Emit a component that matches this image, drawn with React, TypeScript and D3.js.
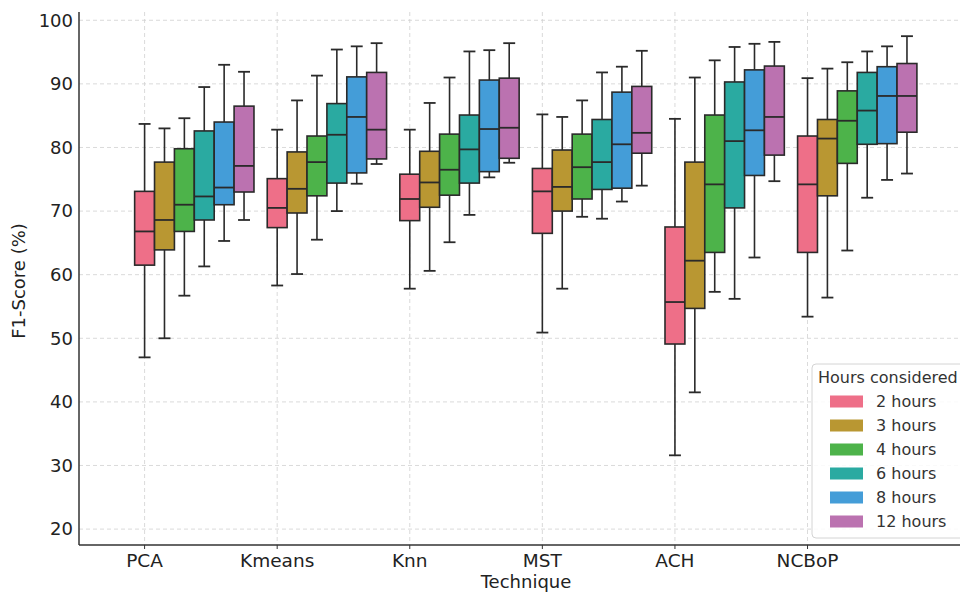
import React, { useEffect, useRef } from "react";
import * as d3 from "d3";

// techniques on the x axis
const techniques = ["PCA", "Kmeans", "Knn", "MST", "ACH", "NCBoP"];
const hourLabels = ["2 hours", "3 hours", "4 hours", "6 hours", "8 hours", "12 hours"];
const hourColors = ["#ee6f88", "#b99732", "#4db34a", "#2aaaa1", "#449dd8", "#bb72b0"];
const yTicks = [20, 30, 40, 50, 60, 70, 80, 90, 100];

// [lower whisker, q1, median, q3, upper whisker] per technique
const h2 = [
  [47.0, 61.5, 66.8, 73.1, 83.7],
  [58.3, 67.4, 70.5, 75.1, 82.8],
  [57.8, 68.5, 71.9, 75.8, 82.8],
  [50.9, 66.5, 73.1, 76.7, 85.2],
  [31.6, 49.1, 55.7, 67.5, 84.5],
  [53.4, 63.5, 74.2, 81.8, 90.9]
];
const h3 = [
  [50.0, 63.9, 68.6, 77.7, 83.0],
  [60.1, 69.7, 73.5, 79.3, 87.4],
  [60.6, 70.6, 74.5, 79.4, 87.0],
  [57.8, 70.0, 73.8, 79.6, 84.8],
  [41.5, 54.7, 62.2, 77.7, 91.0],
  [56.4, 72.4, 81.4, 84.4, 92.4]
];
const h4 = [
  [56.7, 66.8, 71.0, 79.8, 84.6],
  [65.5, 72.4, 77.7, 81.8, 91.3],
  [65.1, 72.5, 76.5, 82.1, 91.0],
  [69.1, 71.9, 76.9, 82.1, 87.4],
  [57.3, 63.5, 74.2, 85.1, 93.7],
  [63.8, 77.5, 84.2, 88.9, 93.4]
];
const h6 = [
  [61.3, 68.6, 72.3, 82.6, 89.5],
  [70.0, 74.4, 82.0, 86.9, 95.4],
  [69.4, 74.4, 79.7, 85.1, 95.1],
  [68.8, 73.4, 77.7, 84.4, 91.8],
  [56.2, 70.5, 81.0, 90.3, 95.8],
  [72.1, 80.5, 85.8, 91.8, 95.1]
];
const h8 = [
  [65.3, 71.0, 73.7, 84.0, 93.0],
  [74.3, 76.0, 84.8, 91.1, 95.9],
  [75.3, 76.2, 82.9, 90.6, 95.3],
  [71.5, 73.6, 80.5, 88.7, 92.7],
  [62.7, 75.6, 82.7, 92.2, 96.3],
  [74.9, 80.6, 88.1, 92.7, 95.9]
];
const h12 = [
  [68.6, 73.0, 77.1, 86.5, 91.9],
  [77.4, 78.2, 82.8, 91.8, 96.4],
  [77.6, 78.3, 83.1, 90.9, 96.4],
  [74.0, 79.1, 82.3, 89.6, 95.2],
  [74.7, 78.8, 84.8, 92.8, 96.6],
  [75.9, 82.4, 88.1, 93.2, 97.5]
];
const series = [h2, h3, h4, h6, h8, h12];

const W = 960;
const H = 593;

function App() {
  const ref = useRef(null);

  useEffect(() => {
    const svg = d3.select(ref.current);
    svg.selectAll("*").remove();

    const left = 79;
    const top = 12;
    const bottom = 545;
    const font = "DejaVu Sans, sans-serif";

    const y = d3.scaleLinear().domain([17.5, 101.3]).range([bottom, top]);
    const x = d3.scaleLinear().domain([-0.5, 6.15]).range([78.3, W]);
    const step = 0.15;

    svg.append("rect").attr("width", W).attr("height", H).attr("fill", "#fff");

    // grid
    svg
      .selectAll("line.hgrid")
      .data(yTicks)
      .enter()
      .append("line")
      .attr("x1", left)
      .attr("x2", W)
      .attr("y1", d => y(d))
      .attr("y2", d => y(d))
      .attr("stroke", "#d0d0d0")
      .attr("stroke-width", 0.8)
      .attr("stroke-dasharray", "4,3");
    svg
      .selectAll("line.vgrid")
      .data(techniques)
      .enter()
      .append("line")
      .attr("x1", (d, i) => x(i))
      .attr("x2", (d, i) => x(i))
      .attr("y1", top)
      .attr("y2", bottom)
      .attr("stroke", "#d0d0d0")
      .attr("stroke-width", 0.8)
      .attr("stroke-dasharray", "4,3");

    // boxes
    series.forEach((s, j) => {
      const g = svg.append("g");
      const bw = x(step) - x(0);
      s.forEach((v, i) => {
        const cx = x(i + j * step);
        const [lo, q1, med, q3, hi] = v;
        const stroke = "#2a2a2a";
        g.append("line")
          .attr("x1", cx).attr("x2", cx)
          .attr("y1", y(hi)).attr("y2", y(q3))
          .attr("stroke", stroke).attr("stroke-width", 1.6);
        g.append("line")
          .attr("x1", cx).attr("x2", cx)
          .attr("y1", y(q1)).attr("y2", y(lo))
          .attr("stroke", stroke).attr("stroke-width", 1.6);
        [lo, hi].forEach(c => {
          g.append("line")
            .attr("x1", cx - bw * 0.3).attr("x2", cx + bw * 0.3)
            .attr("y1", y(c)).attr("y2", y(c))
            .attr("stroke", stroke).attr("stroke-width", 1.8);
        });
        g.append("rect")
          .attr("x", cx - bw / 2)
          .attr("y", y(q3))
          .attr("width", bw)
          .attr("height", y(q1) - y(q3))
          .attr("fill", hourColors[j])
          .attr("stroke", stroke)
          .attr("stroke-width", 1.6);
        g.append("line")
          .attr("x1", cx - bw / 2).attr("x2", cx + bw / 2)
          .attr("y1", y(med)).attr("y2", y(med))
          .attr("stroke", stroke).attr("stroke-width", 1.8);
      });
    });

    // axes
    svg.append("line")
      .attr("x1", left).attr("x2", left).attr("y1", top).attr("y2", bottom)
      .attr("stroke", "#333").attr("stroke-width", 1.5);
    svg.append("line")
      .attr("x1", left).attr("x2", W).attr("y1", bottom).attr("y2", bottom)
      .attr("stroke", "#333").attr("stroke-width", 1.5);

    svg
      .selectAll("text.ytick")
      .data(yTicks)
      .enter()
      .append("text")
      .attr("x", 73)
      .attr("y", d => y(d))
      .attr("dy", "0.35em")
      .attr("text-anchor", "end")
      .attr("font-family", font)
      .attr("font-size", 18)
      .attr("fill", "#222")
      .text(d => d);

    svg
      .selectAll("line.xtick")
      .data(techniques)
      .enter()
      .append("line")
      .attr("x1", (d, i) => x(i))
      .attr("x2", (d, i) => x(i))
      .attr("y1", bottom)
      .attr("y2", bottom + 4)
      .attr("stroke", "#333");

    svg
      .selectAll("text.xtick")
      .data(techniques)
      .enter()
      .append("text")
      .attr("x", (d, i) => x(i))
      .attr("y", 567)
      .attr("text-anchor", "middle")
      .attr("font-family", font)
      .attr("font-size", 18.5)
      .attr("fill", "#222")
      .text(d => d);

    svg.append("text")
      .attr("x", 526)
      .attr("y", 588)
      .attr("text-anchor", "middle")
      .attr("font-family", font)
      .attr("font-size", 18)
      .attr("fill", "#222")
      .text("Technique");

    svg.append("text")
      .attr("transform", "translate(25,281) rotate(-90)")
      .attr("text-anchor", "middle")
      .attr("font-family", font)
      .attr("font-size", 18)
      .attr("fill", "#222")
      .text("F1-Score (%)");

    // legend
    const lg = svg.append("g").attr("transform", "translate(812,364)");
    lg.append("rect")
      .attr("width", 152)
      .attr("height", 174)
      .attr("rx", 4)
      .attr("fill", "#fff")
      .attr("fill-opacity", 0.85)
      .attr("stroke", "#d4d4d4");
    lg.append("text")
      .attr("x", 6)
      .attr("y", 19)
      .attr("font-family", font)
      .attr("font-size", 16)
      .attr("fill", "#333")
      .text("Hours considered");
    hourLabels.forEach((h, j) => {
      const cy = 37.5 + j * 24;
      lg.append("rect")
        .attr("x", 18)
        .attr("y", cy - 6)
        .attr("width", 33)
        .attr("height", 12)
        .attr("fill", hourColors[j]);
      lg.append("text")
        .attr("x", 64)
        .attr("y", cy)
        .attr("dy", "0.35em")
        .attr("font-family", font)
        .attr("font-size", 16)
        .attr("fill", "#333")
        .text(h);
    });
  }, []);

  return (
    <div style={{ position: "absolute", left: 0, top: 0 }}>
      <svg ref={ref} width={W} height={H} style={{ display: "block" }} />
    </div>
  );
}

export default App;
